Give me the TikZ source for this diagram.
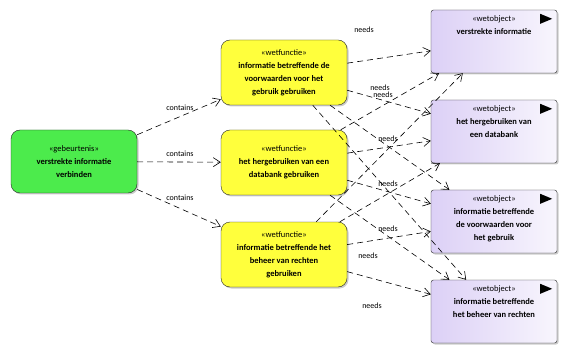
\documentclass[tikz,border=0pt]{standalone}
\usepackage{fontspec}
\setmainfont{Carlito}
\usetikzlibrary{arrows.meta,shadows}

\definecolor{evtgreen}{HTML}{4CEB4C}
\definecolor{funyellow}{HTML}{FFFF3C}
\definecolor{objlilac}{HTML}{DCD0F6}

\tikzset{
  box/.style={draw=black!85, minimum width=126pt, minimum height=63pt, align=center,
    font=\fontsize{8.5}{13}\selectfont,
    drop shadow={shadow xshift=1.5pt, shadow yshift=-1.5pt, fill=black!50, opacity=0.4}},
  evt/.style={box, rounded corners=9pt, fill=evtgreen},
  fun/.style={box, rounded corners=9pt, fill=funyellow},
  obj/.style={box, rounded corners=2.5pt, left color=objlilac, right color=objlilac!20},
  objtext/.style={anchor=north, yshift=-2pt, align=center, font=\fontsize{8.5}{13}\selectfont},
  dep/.style={line width=0.6pt, dash pattern=on 6pt off 4pt, -{Straight Barb[length=7pt,width=9pt]}},
  lbl/.style={font=\fontsize{8}{9}\selectfont}
}

\begin{document}
\begin{tikzpicture}[x=1pt,y=-1pt]
  \useasboundingbox[fill=white] (0,0) rectangle (569,355);

  % event
  \node[evt] (E) at (74,161.5) {«gebeurtenis»\\\textbf{verstrekte informatie}\\\textbf{verbinden}};

  % functions
  \node[fun, minimum height=65pt] (F1) at (284,72.5)
    {«wetfunctie»\\\textbf{informatie betreffende de}\\\textbf{voorwaarden voor het}\\\textbf{gebruik gebruiken}};
  \node[fun, minimum height=65pt] (F2) at (284,162.5) {«wetfunctie»\\\textbf{het hergebruiken van een}\\\textbf{databank gebruiken}};
  \node[fun, minimum height=65pt] (F3) at (284,254.5)
    {«wetfunctie»\\\textbf{informatie betreffende het}\\\textbf{beheer van rechten}\\\textbf{gebruiken}};

  % objects
  \node[obj, label={[objtext]north:«wetobject»\\\textbf{verstrekte informatie}}] (O1) at (494,41.5) {};
  \node[obj, label={[objtext]north:«wetobject»\\\textbf{het hergebruiken van}\\\textbf{een databank}}] (O2) at (494,131.5) {};
  \node[obj, label={[objtext]north:«wetobject»\\\textbf{informatie betreffende}\\\textbf{de voorwaarden voor}\\\textbf{het gebruik}}] (O3) at (494,221.5) {};
  \node[obj, label={[objtext]north:«wetobject»\\\textbf{informatie betreffende}\\\textbf{het beheer van rechten}}] (O4) at (494,311.5) {};

  % triangles
  \foreach \o in {O1,O2,O3,O4}{
    \fill ([shift={(-17,4)}]\o.north east) -- ++(12,5) -- ++(-12,5) -- cycle;
  }

  % contains
  \draw[dep] (E) -- (F1);
  \draw[dep] (E) -- (F2);
  \draw[dep] (E) -- (F3);
  \node[lbl] (c1) at (180,108) {contains};
  \node[lbl] (c2) at (180,154) {contains};
  \node[lbl] (c3) at (180,198) {contains};

  % needs
  \foreach \f in {F1,F2,F3}{
    \foreach \o in {O1,O2,O3,O4}{
      \draw[dep] (\f) -- (\o);
    }
  }
  \node[lbl] (n1) at (364,30) {needs};
  \node[lbl] (n2) at (380,88) {needs};
  \node[lbl] (n3) at (383,95) {needs};
  \node[lbl] (n4) at (388,139) {needs};
  \node[lbl] (n5) at (388,184) {needs};
  \node[lbl] (n6) at (388,229) {needs};
  \node[lbl] (n7) at (368,256) {needs};
  \node[lbl] (n8) at (372,306) {needs};
\end{tikzpicture}
\end{document}
